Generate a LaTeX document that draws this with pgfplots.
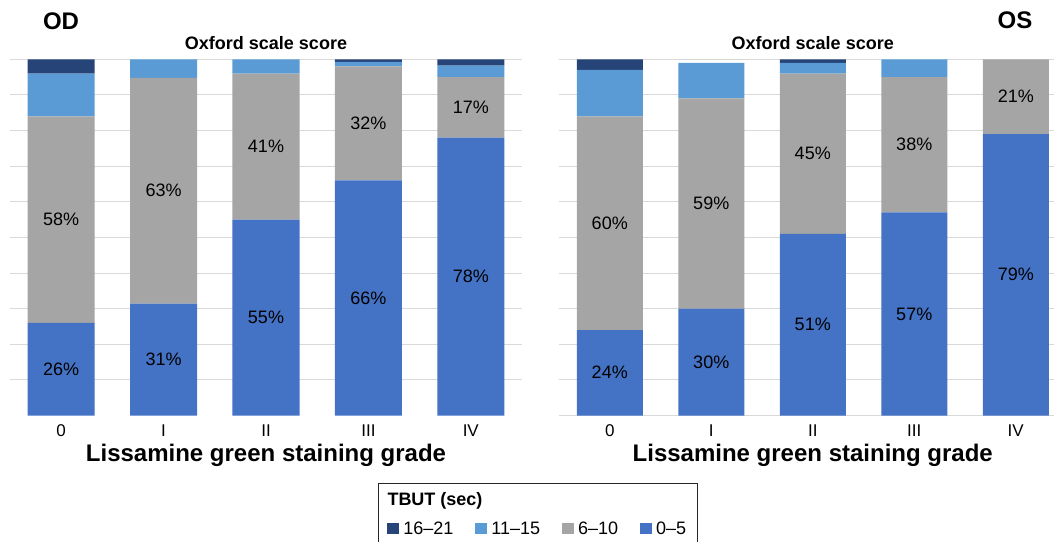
\documentclass[border=0pt]{standalone}
\usepackage{fontspec}
\setmainfont{Liberation Sans}
\usepackage{pgfplots}
\usepackage{pgfplotstable}
\pgfplotsset{compat=1.18}
\definecolor{cDark}{HTML}{264478}
\definecolor{cLight}{HTML}{5B9BD5}
\definecolor{cGray}{HTML}{A5A5A5}
\definecolor{cBlue}{HTML}{4472C4}
\definecolor{cGrid}{HTML}{D9D9D9}

% columns: 0-5, 6-10, 11-15, 16-21 (percent)
\pgfplotstableread{
x lo mid hi top
0 26 58 12 4
1 31.4 63.4 5.2 0
2 55 41 4 0
3 66 32 1.3 0.7
4 78 17 3.2 1.8
}\odtable
\pgfplotstableread{
x lo mid hi top
0 24 60 13 3
1 30 59 10 0
2 51 45 3 1
3 57 38 5 0
4 79 21 0 0
}\ostable

\pgfplotsset{
  mybars/.style={
    scale only axis, height=356.2pt,
    ybar stacked, ymin=0, ymax=100, xmin=-0.5, xmax=4.5,
    xtick={0,1,2,3,4}, xticklabels={0,I,II,III,IV},
    major tick length=0pt, axis line style={draw=none},
    yticklabels={}, ymajorgrids, grid style={color=cGrid, line width=0.9pt},
    xticklabel style={font=\fontsize{17}{19}\selectfont, anchor=base, yshift=-21pt},
    title={Oxford scale score},
    every axis title/.style={font=\bfseries\fontsize{18}{20}\selectfont, at={(axis description cs:0.5,1)}, anchor=base, yshift=9.8pt},
    xlabel={Lissamine green staining grade},
    every axis x label/.style={at={(axis description cs:0.5,0)}, anchor=base, yshift=-46.2pt, font=\bfseries\fontsize{24}{28}\selectfont},
    clip=false,
  },
  lab/.style={
    nodes near coords={\pgfmathprintnumber[assume math mode=true, fixed, precision=0]{\rawy}\%},
    visualization depends on=rawy\as\rawy,
    every node near coord/.style={anchor=center, font=\fontsize{18}{20}\selectfont, text=black, inner sep=0pt},
  },
}

\begin{document}
\begin{tikzpicture}[x=1pt,y=1pt]
\useasboundingbox (0,0) rectangle (1054,541);
\clip (0,0) rectangle (1054,541);

\begin{axis}[mybars, at={(10pt,125.5pt)}, anchor=south west, width=512pt,
  bar width=67pt, ytick={10,20,...,100},
  legend style={at={(axis description cs:0.7369,-0.3327)}, anchor=south west, draw=none, fill=none,
    inner sep=0pt, outer sep=0pt, legend columns=4, font=\fontsize{18}{20}\selectfont,
    nodes={inner sep=0pt, text height=11.5pt, text depth=0pt},
    /tikz/every odd column/.append style={column sep=4pt},
    /tikz/every even column/.append style={column sep=22pt}},
  legend cell align=left, reverse legend,
  legend image code/.code={\fill[#1] (0pt,-5.75pt) rectangle (12pt,5.75pt);},
]
\addplot[fill=cBlue, draw=none, lab] table[x=x, y=lo] {\odtable};
\addlegendentry{0–5}
\addplot[fill=cGray, draw=none, lab] table[x=x, y=mid] {\odtable};
\addlegendentry{6–10}
\addplot[fill=cLight, draw=none] table[x=x, y=hi] {\odtable};
\addlegendentry{11–15}
\addplot[fill=cDark, draw=none] table[x=x, y=top] {\odtable};
\addlegendentry{16–21}
\end{axis}

\begin{axis}[mybars, at={(559pt,125.5pt)}, anchor=south west, width=507.5pt,
  bar width=66pt, ytick={0,10,...,100}]
\addplot[fill=cBlue, draw=none, lab] table[x=x, y=lo] {\ostable};
\addplot[fill=cGray, draw=none, lab] table[x=x, y=mid] {\ostable};
\addplot[fill=cLight, draw=none] table[x=x, y=hi] {\ostable};
\addplot[fill=cDark, draw=none] table[x=x, y=top] {\ostable};
\end{axis}

\node[anchor=base, font=\bfseries\fontsize{24}{28}\selectfont, inner sep=0pt] at (61,511.7) {OD};
\node[anchor=base, font=\bfseries\fontsize{24}{28}\selectfont, inner sep=0pt] at (1015,512) {OS};

\draw[line width=1pt, color=black!85] (378.3,57.7) rectangle (697.7,-10);
\node[anchor=base west, font=\bfseries\fontsize{18}{20}\selectfont, inner sep=0pt] at (387.3,35.3) {TBUT (sec)};
\end{tikzpicture}
\end{document}
